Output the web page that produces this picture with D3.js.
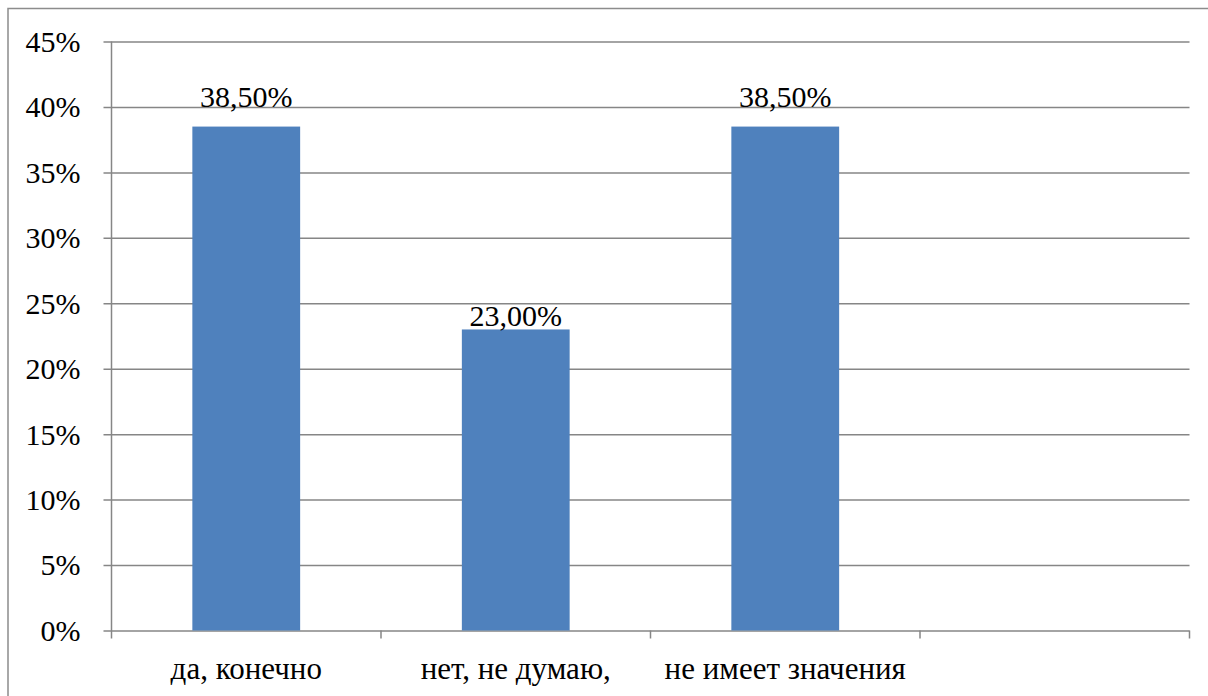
<!DOCTYPE html>
<html>
<head>
<meta charset="utf-8">
<script src="https://cdn.jsdelivr.net/npm/d3@7"></script>
<style>
  html, body { margin: 0; padding: 0; background: #fff; }
  svg { display: block; }
</style>
</head>
<body>
<svg id="chart" width="1208" height="696"></svg>
<script>
// Survey answers and their shares (percent)
const categories = ["да, конечно", "нет, не думаю,", "не имеет значения", ""];
const values = [38.5, 23.0, 38.5, null];
const valueLabels = ["38,50%", "23,00%", "38,50%", ""];
const yTicks = [0, 5, 10, 15, 20, 25, 30, 35, 40, 45];

// Vertical lift of each value label above its bar, in pixels
const labelLift = [20, 3, 20, 0];

const FONT = "Liberation Serif";
const W = 1208, H = 696;
const margin = { left: 111.5, right: 18.5, top: 41.5, bottom: 65.5 };
const svg = d3.select("#chart");

// Outer frame of the chart area
svg.append("rect")
  .attr("x", 8).attr("y", 8.5)
  .attr("width", W + 10).attr("height", H + 10)
  .attr("fill", "#fff").attr("stroke", "#8c8c8c").attr("stroke-width", 1.5);

const x = d3.scaleBand()
  .domain(d3.range(categories.length))
  .range([margin.left, W - margin.right])
  .paddingInner(0.6).paddingOuter(0.3);

const xEdge = d3.scaleLinear()
  .domain([0, categories.length])
  .range([margin.left, W - margin.right]);

const y = d3.scaleLinear()
  .domain([0, 45])
  .range([H - margin.bottom, margin.top]);

const gridColor = "#868686";

// Place a start-anchored text so that it ends (align = 1) or is centred (align = 0.5) at x
function placeText(sel, xPos, align) {
  sel.each(function (d) {
    const len = this.getComputedTextLength();
    d3.select(this).attr("x", xPos(d) - len * align);
  });
}

// Horizontal gridlines with small outside ticks
const yAxis = d3.axisLeft(y)
  .tickValues(yTicks)
  .tickSize(-(W - margin.right - margin.left))
  .tickSizeOuter(0)
  .tickFormat(d => d + "%")
  .tickPadding(31);

const gy = svg.append("g")
  .attr("transform", `translate(${margin.left},0)`)
  .call(yAxis)
  .attr("font-family", FONT)
  .attr("font-size", 30)
  .attr("text-anchor", null);
gy.select(".domain").remove();
gy.selectAll(".tick line")
  .attr("x1", -8)
  .attr("stroke", gridColor).attr("stroke-width", 1.5);
gy.selectAll(".tick text")
  .attr("font-family", FONT)
  .attr("font-size", 30)
  .attr("fill", "#000")
  .attr("dy", "0.33em")
  .call(placeText, () => -31, 1);

// Vertical axis line
svg.append("line")
  .attr("x1", margin.left).attr("x2", margin.left)
  .attr("y1", y(45)).attr("y2", y(0) + 8)
  .attr("stroke", gridColor).attr("stroke-width", 1.5);

// Category boundary ticks along the baseline
svg.selectAll("line.cat-tick")
  .data(d3.range(1, categories.length + 1))
  .join("line")
  .attr("class", "cat-tick")
  .attr("x1", d => xEdge(d)).attr("x2", d => xEdge(d))
  .attr("y1", y(0)).attr("y2", y(0) + 8)
  .attr("stroke", gridColor).attr("stroke-width", 1.5);

// Bars
const data = values.map((v, i) => ({ i, v })).filter(d => d.v != null);
svg.selectAll("rect.bar")
  .data(data)
  .join("rect")
  .attr("class", "bar")
  .attr("x", d => x(d.i))
  .attr("width", x.bandwidth())
  .attr("y", d => y(d.v))
  .attr("height", d => y(0) - y(d.v))
  .attr("fill", "#4f81bd");

// Value labels
svg.selectAll("text.value")
  .data(data)
  .join("text")
  .attr("class", "value")
  .attr("y", d => y(d.v) - labelLift[d.i])
  .attr("font-family", FONT)
  .attr("font-size", 30)
  .attr("fill", "#000")
  .text(d => valueLabels[d.i])
  .call(placeText, d => x(d.i) + x.bandwidth() / 2, 0.5);

// Category labels
svg.selectAll("text.category")
  .data(categories.map((c, i) => ({ c, i })))
  .join("text")
  .attr("class", "category")
  .attr("y", y(0) + 48)
  .attr("font-family", FONT)
  .attr("font-size", 31)
  .attr("fill", "#000")
  .text(d => d.c)
  .call(placeText, d => x(d.i) + x.bandwidth() / 2, 0.5);
</script>
</body>
</html>
